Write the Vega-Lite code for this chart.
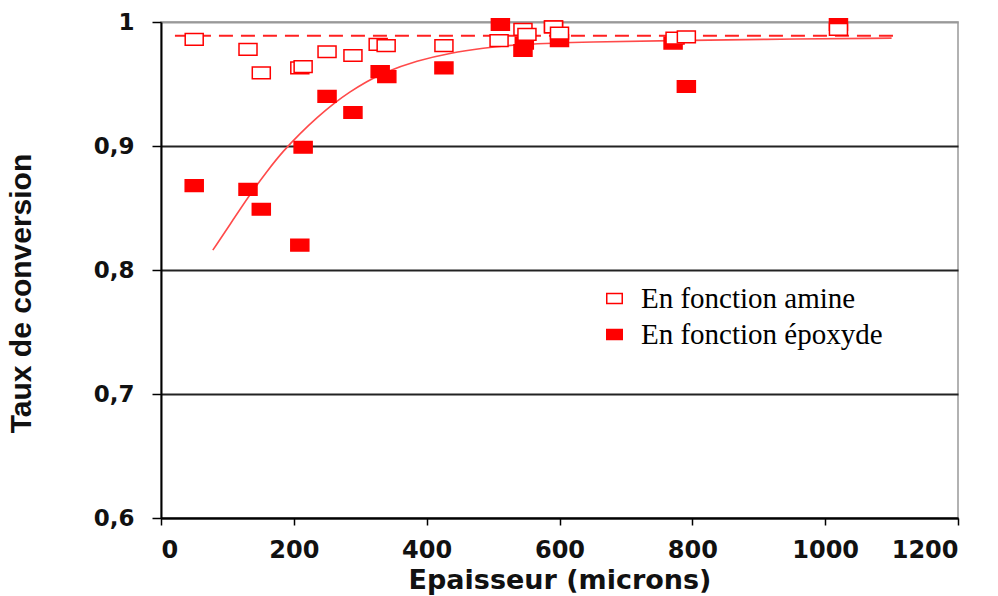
{
  "$schema": "https://vega.github.io/schema/vega-lite/v6.json",
  "width": 797,
  "height": 496,
  "autosize": {"type": "none"},
  "padding": {"left": 161, "top": 22, "right": 40, "bottom": 78},
  "background": "white",
  "datasets": {
    "points": [
      {"x": 50, "y": 0.868, "serie": "En fonction époxyde"},
      {"x": 131, "y": 0.865, "serie": "En fonction époxyde"},
      {"x": 151, "y": 0.849, "serie": "En fonction époxyde"},
      {"x": 209, "y": 0.820, "serie": "En fonction époxyde"},
      {"x": 214, "y": 0.899, "serie": "En fonction époxyde"},
      {"x": 250, "y": 0.940, "serie": "En fonction époxyde"},
      {"x": 289, "y": 0.927, "serie": "En fonction époxyde"},
      {"x": 330, "y": 0.960, "serie": "En fonction époxyde"},
      {"x": 340, "y": 0.956, "serie": "En fonction époxyde"},
      {"x": 426, "y": 0.963, "serie": "En fonction époxyde"},
      {"x": 511, "y": 0.998, "serie": "En fonction époxyde"},
      {"x": 545, "y": 0.977, "serie": "En fonction époxyde"},
      {"x": 547, "y": 0.983, "serie": "En fonction époxyde"},
      {"x": 591, "y": 0.996, "serie": "En fonction époxyde"},
      {"x": 600, "y": 0.985, "serie": "En fonction époxyde"},
      {"x": 771, "y": 0.983, "serie": "En fonction époxyde"},
      {"x": 791, "y": 0.948, "serie": "En fonction époxyde"},
      {"x": 1020, "y": 0.998, "serie": "En fonction époxyde"},
      {"x": 50, "y": 0.986, "serie": "En fonction amine"},
      {"x": 131, "y": 0.978, "serie": "En fonction amine"},
      {"x": 151, "y": 0.959, "serie": "En fonction amine"},
      {"x": 209, "y": 0.963, "serie": "En fonction amine"},
      {"x": 214, "y": 0.964, "serie": "En fonction amine"},
      {"x": 250, "y": 0.976, "serie": "En fonction amine"},
      {"x": 289, "y": 0.973, "serie": "En fonction amine"},
      {"x": 327, "y": 0.982, "serie": "En fonction amine"},
      {"x": 339, "y": 0.981, "serie": "En fonction amine"},
      {"x": 426, "y": 0.981, "serie": "En fonction amine"},
      {"x": 509, "y": 0.985, "serie": "En fonction amine"},
      {"x": 545, "y": 0.994, "serie": "En fonction amine"},
      {"x": 551, "y": 0.990, "serie": "En fonction amine"},
      {"x": 591, "y": 0.996, "serie": "En fonction amine"},
      {"x": 600, "y": 0.991, "serie": "En fonction amine"},
      {"x": 774, "y": 0.987, "serie": "En fonction amine"},
      {"x": 791, "y": 0.988, "serie": "En fonction amine"},
      {"x": 1020, "y": 0.994, "serie": "En fonction amine"}
    ],
    "curve": [
      {"x": 78, "y": 0.816}, {"x": 108, "y": 0.840}, {"x": 134, "y": 0.861},
      {"x": 160, "y": 0.880}, {"x": 184, "y": 0.896}, {"x": 209, "y": 0.910},
      {"x": 235, "y": 0.923}, {"x": 259, "y": 0.934}, {"x": 285, "y": 0.944},
      {"x": 310, "y": 0.952}, {"x": 334, "y": 0.959}, {"x": 386, "y": 0.969},
      {"x": 435, "y": 0.975}, {"x": 485, "y": 0.979}, {"x": 536, "y": 0.982},
      {"x": 650, "y": 0.984}, {"x": 768, "y": 0.985}, {"x": 900, "y": 0.986},
      {"x": 1100, "y": 0.987}
    ],
    "dashed": [
      {"x": 21, "y": 0.989}, {"x": 1113, "y": 0.989}
    ]
  },
  "encoding": {
    "x": {
      "field": "x", "type": "quantitative",
      "scale": {"domain": [0, 1200], "nice": false, "zero": false},
      "axis": {
        "title": "Epaisseur (microns)",
        "values": [0, 200, 400, 600, 800, 1000, 1200],
        "format": "d",
        "grid": false,
        "domainColor": "#000", "domainWidth": 2,
        "tickColor": "#000", "tickWidth": 1.5, "tickSize": 7,
        "labelFont": "DejaVu Sans", "labelFontWeight": "bold", "labelFontSize": 24,
        "labelColor": "#111", "labelPadding": 13,
        "titleFont": "DejaVu Sans", "titleFontWeight": "bold", "titleFontSize": 27,
        "titleColor": "#111", "titlePadding": 5
      }
    },
    "y": {
      "field": "y", "type": "quantitative",
      "scale": {"domain": [0.6, 1], "nice": false, "zero": false},
      "axis": {
        "title": "Taux de conversion",
        "values": [0.6, 0.7, 0.8, 0.9, 1],
        "labelExpr": "datum.value == 1 ? '1' : replace(format(datum.value, '.1f'), '.', ',')",
        "grid": true,
        "gridColor": {"condition": {"test": "datum.value == 1", "value": "#999999"}, "value": "#222222"},
        "gridWidth": 2,
        "domainColor": "#000", "domainWidth": 2,
        "tickColor": "#000", "tickWidth": 1.5, "tickSize": 9,
        "labelFont": "DejaVu Sans", "labelFontWeight": "bold", "labelFontSize": 23,
        "labelColor": "#111", "labelPadding": 18,
        "titleFont": "Liberation Sans", "titleFontWeight": "bold", "titleFontSize": 30,
        "titleColor": "#111", "titleAngle": -90, "titleX": -140, "titleY": 271,
        "titleBaseline": "middle", "titleAlign": "center"
      }
    }
  },
  "layer": [
    {
      "data": {"name": "dashed"},
      "mark": {"type": "line", "color": "#ff2020", "strokeWidth": 2, "strokeDash": [14, 8]}
    },
    {
      "data": {"name": "curve"},
      "mark": {"type": "line", "color": "#ff4a4a", "strokeWidth": 1.6, "interpolate": "basis"}
    },
    {
      "data": {"name": "points"},
      "mark": {
        "type": "point", "filled": true,
        "shape": "M-1,-0.65H1V0.65H-1Z",
        "size": 324, "stroke": "#ff0000", "strokeWidth": 1.5, "opacity": 1
      },
      "encoding": {
        "fill": {
          "field": "serie", "type": "nominal",
          "scale": {"domain": ["En fonction amine", "En fonction époxyde"], "range": ["#ffffff", "#ff0000"]},
          "legend": {
            "title": null,
            "orient": "none",
            "legendX": 439,
            "legendY": 262,
            "padding": 0,
            "symbolType": "M-1,-0.65H1V0.65H-1Z",
            "symbolSize": 240,
            "symbolStrokeColor": "#ff0000",
            "symbolStrokeWidth": 1.5,
            "symbolOpacity": 1,
            "labelFont": "Liberation Serif",
            "labelFontSize": 29,
            "labelColor": "#000",
            "labelOffset": 12,
            "rowPadding": 6,
            "labelLimit": 400
          }
        }
      }
    }
  ],
  "config": {
    "view": {"stroke": "#999999", "strokeWidth": 1.5}
  }
}
